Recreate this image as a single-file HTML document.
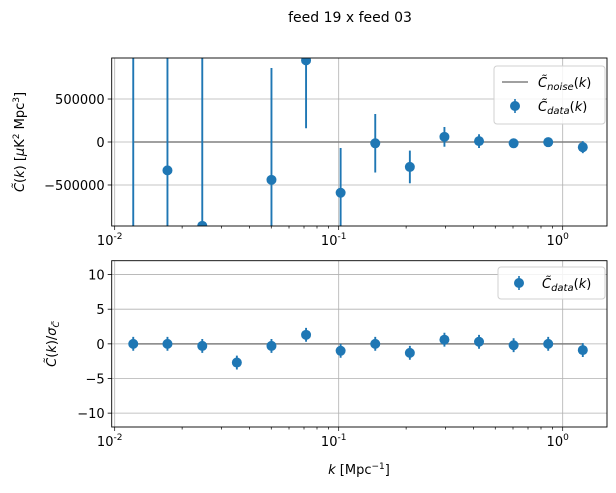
<!DOCTYPE html>
<html><head><meta charset="utf-8"><style>
html,body{margin:0;padding:0;background:#fff;overflow:hidden;width:616px;height:493px}
svg{display:block}
svg text{font-family:"DejaVu Sans","Liberation Sans",sans-serif;fill:#000}
</style></head><body>
<svg id="fig" width="616" height="493" viewBox="0 0 616 493" xmlns="http://www.w3.org/2000/svg">
<rect width="616" height="493" fill="#fff"/>
<text x="350" y="22" font-size="14" text-anchor="middle">feed 19 x feed 03</text>
<g id="topPanel"></g>
<g id="botPanel"></g>
</svg>
<script>
const kValues=[0.0121,0.0172,0.0246,0.0351,0.0501,0.0715,0.102,0.1456,0.2078,0.2965,0.4231,0.6038,0.8616,1.2295];
const powerValues=[-2000000,-330000,-975000,-5000000,-440000,950000,-590000,-15000,-290000,60000,10000,-15000,-2000,-60000];
const powerErrors=[3000000,1400000,2300000,1500000,1300000,790000,520000,340000,190000,115000,80000,20000,15000,70000];
const ratioValues=[0.0,0.0,-0.3,-2.7,-0.3,1.3,-1.0,0.0,-1.3,0.6,0.3,-0.2,0.0,-0.9];
const ratioErrors=[1,1,1,1,1,1,1,1,1,1,1,1,1,1];
const topTicks=[-500000,0,500000];
const topTickLabels=["\u2212500000","0","500000"];
const botTicks=[-10,-5,0,5,10];
const botTickLabels=["\u221210","\u22125","0","5","10"];
const xTicks=[0.01,0.1,1];
const xTickLabels=["-2","-1","0"];

const NS="http://www.w3.org/2000/svg";
const L=111.7,R=607;
function xs(k){return 114.7+(Math.log10(k)+2)*224;}
function mk(p,tag,a){const e=document.createElementNS(NS,tag);for(const q in a)e.setAttribute(q,a[q]);p.appendChild(e);return e;}
function txt(p,x,y,s,size,anchor){const t=mk(p,'text',{x:x,y:y,'font-size':size,'text-anchor':anchor||'middle'});t.textContent=s;return t;}

function panel(g,id,T,B,ymin,ymax,yt,ytl,vals,errs){
  const ys=v=>B-(v-ymin)/(ymax-ymin)*(B-T);
  const clip=mk(g,'clipPath',{id:'c'+id});mk(clip,'rect',{x:L,y:T,width:R-L,height:B-T});
  xTicks.forEach(k=>{const l=mk(g,'line',{x1:xs(k),x2:xs(k),y1:T,y2:B,stroke:'#b0b0b0','stroke-width':0.8});
    
    });
  yt.forEach((v,i)=>{const l=mk(g,'line',{x1:L,x2:R,y1:ys(v),y2:ys(v),stroke:'#b0b0b0','stroke-width':0.8});
    
    
    mk(g,'line',{x1:L-4,x2:L,y1:ys(v),y2:ys(v),stroke:'#000','stroke-width':0.8});
    const t=txt(g,L-7,ys(v)+5,ytl[i],13,'end');
    
    });
  for(let d=-2;d<=0;d++)for(let m=1;m<10;m++){const k=m*Math.pow(10,d);if(xs(k)>R)continue;
    mk(g,'line',{x1:xs(k),x2:xs(k),y1:B,y2:B+(m==1?4:2.5),stroke:'#000','stroke-width':0.7});}
  xTicks.forEach((k,i)=>{const t=mk(g,'text',{x:xs(k)-5,y:B+19,'font-size':13,'text-anchor':'middle'});
    t.textContent='10';const s=mk(t,'tspan',{dy:-6,'font-size':9});s.textContent=xTickLabels[i];
    
    });
  const cg=mk(g,'g',{'clip-path':'url(#c'+id+')'});
  const n=mk(cg,'line',{x1:xs(kValues[0]),x2:xs(kValues[kValues.length-1]),y1:ys(0),y2:ys(0),stroke:'#808080','stroke-width':1.5});
  
  
  kValues.forEach((k,i)=>{const x=xs(k);
    const e=mk(cg,'line',{x1:x,x2:x,y1:ys(vals[i]-errs[i]),y2:ys(vals[i]+errs[i]),stroke:'#1f77b4','stroke-width':1.9});
    
    
    const c=mk(cg,'circle',{cx:x,cy:ys(vals[i]),r:5,fill:'#1f77b4'});
    
    });
  const f=mk(g,'rect',{x:L,y:T,width:R-L,height:B-T,fill:'none',stroke:'#000','stroke-width':0.9});
  
  
}
const topG=document.getElementById('topPanel');


panel(topG,'t',58,226,-977000,977000,topTicks,topTickLabels,powerValues,powerErrors);
const botG=document.getElementById('botPanel');


panel(botG,'b',260.7,427,-12,12,botTicks,botTickLabels,ratioValues,ratioErrors);

let t=mk(topG,'text',{x:0,y:0,'font-size':13,'text-anchor':'middle',transform:'translate(24,142) rotate(-90)'});
t.innerHTML='<tspan font-style="italic">C̃</tspan>(<tspan font-style="italic">k</tspan>) [<tspan font-style="italic">μ</tspan>K<tspan dy="-5" font-size="9">2</tspan><tspan dy="5"> Mpc</tspan><tspan dy="-5" font-size="9">3</tspan><tspan dy="5">]</tspan>';


t=mk(botG,'text',{x:0,y:0,'font-size':13,'text-anchor':'middle',transform:'translate(56,344) rotate(-90)'});
t.innerHTML='<tspan font-style="italic">C̃</tspan>(<tspan font-style="italic">k</tspan>)/<tspan font-style="italic">σ</tspan><tspan dy="3" font-size="9" font-style="italic">C̃</tspan>';


t=mk(botG,'text',{x:359,y:474,'font-size':13,'text-anchor':'middle'});
t.innerHTML='<tspan font-style="italic">k</tspan> [Mpc<tspan dy="-5" font-size="9">−1</tspan><tspan dy="5">]</tspan>';



function legend(g,x,y,w,h,entries,name){
  const lg=mk(g,'g',{});
  
  
  mk(lg,'rect',{x:x,y:y,width:w,height:h,rx:3,fill:'#fff','fill-opacity':0.85,stroke:'#d0d0d0'});
  entries.forEach((e,i)=>{const cy=y+16+i*24;
    if(e[0]=='line'){mk(lg,'line',{x1:x+8,x2:x+34,y1:cy,y2:cy,stroke:'#808080','stroke-width':1.5});}
    else{mk(lg,'line',{x1:x+21,x2:x+21,y1:cy-7,y2:cy+7,stroke:'#1f77b4','stroke-width':1.6});mk(lg,'circle',{cx:x+21,cy:cy,r:5,fill:'#1f77b4'});}
    const tt=mk(lg,'text',{x:x+44,y:cy+5,'font-size':13});
    tt.innerHTML='<tspan font-style="italic">C̃</tspan><tspan dy="3" font-size="10" font-style="italic">'+e[1]+'</tspan><tspan dy="-3">(</tspan><tspan font-style="italic">k</tspan>)';
    
    });
}
legend(topG,494,66,111,58,[['line','noise'],['pt','data']],'top-legend');
legend(botG,498,267,107,32,[['pt','data']],'bottom-legend');
</script>
</body></html>
